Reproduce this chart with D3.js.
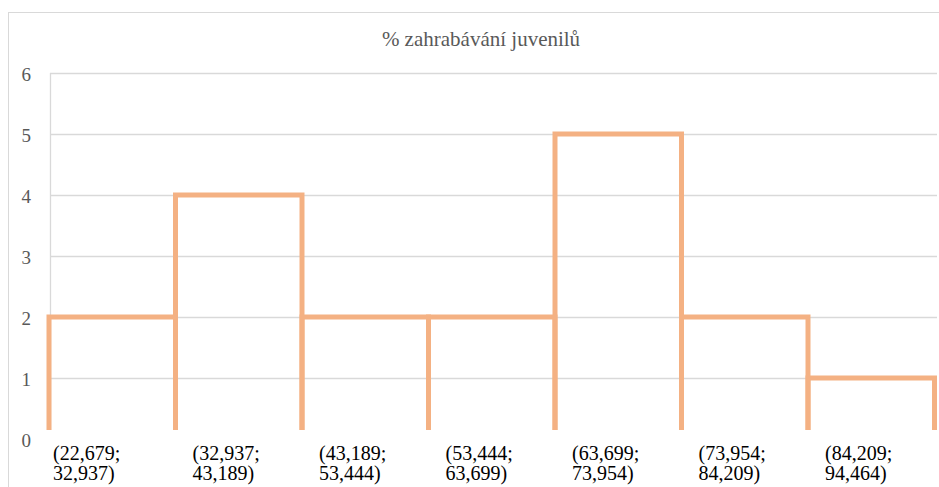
<!DOCTYPE html>
<html>
<head>
<meta charset="utf-8">
<script src="https://cdn.jsdelivr.net/npm/d3@7"></script>
</head>
<body style="margin:0">
<script>
// histogram data
var binStarts = ["22,679", "32,937", "43,189", "53,444", "63,699", "73,954", "84,209"];
var binEnds = ["32,937", "43,189", "53,444", "63,699", "73,954", "84,209", "94,464"];
var counts = [2, 4, 2, 2, 5, 2, 1];
var yTicks = [0, 1, 2, 3, 4, 5, 6];
var title = "% zahrabávání juvenilů";

var W = 939, H = 487;
var serif = "'Liberation Serif'";

var svg = d3.select("body").append("svg")
    .attr("width", W)
    .attr("height", H);

// chart frame (extends past the window on right and bottom)
svg.append("rect")
    .attr("x", 8.5).attr("y", 12.5)
    .attr("width", 960).attr("height", 500)
    .attr("fill", "#fff")
    .attr("stroke", "#d9d9d9");

var x = d3.scaleLinear().domain([0, counts.length]).range([49, 934.5]);
var y = d3.scaleLinear().domain([0, 6]).range([439, 73]);

// gridlines
svg.append("g").selectAll("line")
    .data(yTicks.filter(function(d){ return d > 0; }))
    .enter().append("line")
    .attr("x1", 50).attr("x2", 937)
    .attr("y1", function(d){ return Math.round(y(d)) + 0.5; })
    .attr("y2", function(d){ return Math.round(y(d)) + 0.5; })
    .attr("stroke", "#d9d9d9")
    .attr("stroke-width", 1.3);

svg.append("line")
    .attr("x1", 50.5).attr("x2", 50.5)
    .attr("y1", y(6)).attr("y2", 430)
    .attr("stroke", "#d9d9d9")
    .attr("stroke-width", 1.3);

// y tick labels
svg.append("g").selectAll("text")
    .data(yTicks)
    .enter().append("text")
    .attr("x", 31)
    .attr("y", function(d){ return y(d) + 8; })
    .attr("text-anchor", "end")
    .style("fill", "#595959")
    .style("font-family", serif)
    .style("font-size", "19px")
    .text(function(d){ return d; });

// clip so the bar bottoms are cut off like in the picture
svg.append("clipPath").attr("id", "plotclip")
    .append("rect")
    .attr("x", 0).attr("y", 0)
    .attr("width", W).attr("height", 430);

svg.append("g")
    .attr("clip-path", "url(#plotclip)")
    .selectAll("rect")
    .data(counts)
    .enter().append("rect")
    .attr("x", function(d, i){ return x(i); })
    .attr("width", function(d, i){ return x(i + 1) - x(i); })
    .attr("y", function(d){ return y(d); })
    .attr("height", function(d){ return y(0) - y(d) + 20; })
    .attr("fill", "none")
    .attr("stroke", "#f4b183")
    .attr("stroke-width", 5);

// category labels, two lines each
function labX(d, i) { return i === 0 ? x(i) + 4 : x(i) + 17; }

var lab = svg.append("g").selectAll("text")
    .data(binStarts)
    .enter().append("text")
    .attr("y", 460)
    .style("fill", "#000")
    .style("font-family", serif)
    .style("font-size", "20px");

lab.append("tspan")
    .attr("x", labX)
    .text(function(d){ return "(" + d + ";"; });
lab.append("tspan")
    .attr("x", labX)
    .attr("dy", 20)
    .text(function(d, i){ return binEnds[i] + ")"; });

// title
svg.append("text")
    .attr("x", 481)
    .attr("y", 46)
    .attr("text-anchor", "middle")
    .style("fill", "#595959")
    .style("font-family", serif)
    .style("font-size", "21px")
    .text(title);
</script>
</body>
</html>
